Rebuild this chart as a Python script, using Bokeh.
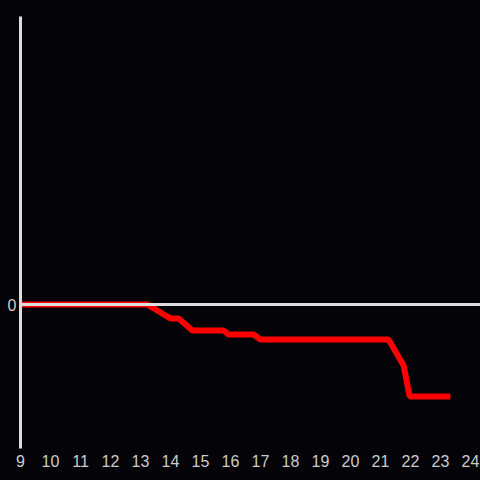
from bokeh.plotting import figure
from bokeh.models import Span, FixedTicker, Range1d, GlobalInlineStyleSheet
from bokeh.embed import file_html
from bokeh.resources import INLINE

# data
hours = [9.0, 13.23, 14.0, 14.27, 14.73, 15.77, 15.93, 16.77, 17.0, 21.27, 21.77, 21.97, 23.33]
values = [0.0, 0.0, -1.4, -1.4, -2.6, -2.6, -3.0, -3.0, -3.5, -3.5, -6.1, -9.2, -9.2]
x_ticks = list(range(9, 25))
y_ticks = [0]

BG = "#040307"

p = figure(width=480, height=480, output_backend="svg", toolbar_location=None,
           x_range=Range1d(9, 24.333), y_range=Range1d(-14.4, 28.8),
           background_fill_color=BG, border_fill_color=BG, outline_line_color=None,
           min_border_left=20, min_border_right=0, min_border_top=16, min_border_bottom=32)
p.stylesheets = [GlobalInlineStyleSheet(css=f"html, body {{ margin: 0; padding: 0; background: {BG}; overflow: hidden; }}")]

p.xgrid.visible = False
p.ygrid.visible = False

p.xaxis.ticker = FixedTicker(ticks=x_ticks)
p.xaxis.axis_line_color = None
p.xaxis.major_tick_line_color = None
p.xaxis.minor_tick_line_color = None
p.xaxis.major_tick_out = 0
p.xaxis.major_label_standoff = 6
p.xaxis.major_label_text_color = "#cccccc"
p.xaxis.major_label_text_font = "Liberation Sans"
p.xaxis.major_label_text_font_size = "16px"

p.yaxis.ticker = FixedTicker(ticks=y_ticks)
p.yaxis.axis_line_color = "#dddddd"
p.yaxis.axis_line_width = 3
p.yaxis.major_tick_line_color = None
p.yaxis.minor_tick_line_color = None
p.yaxis.major_tick_out = 0
p.yaxis.major_label_standoff = 4
p.yaxis.major_label_text_color = "#cccccc"
p.yaxis.major_label_text_font = "Liberation Sans"
p.yaxis.major_label_text_font_size = "16px"

zero = Span(location=0, dimension="width", line_color="#dddddd", line_width=3)
p.add_layout(zero)

p.line(hours, values, line_color="#ff0000", line_width=6)

open("out.html", "w").write(file_html(p, INLINE))
